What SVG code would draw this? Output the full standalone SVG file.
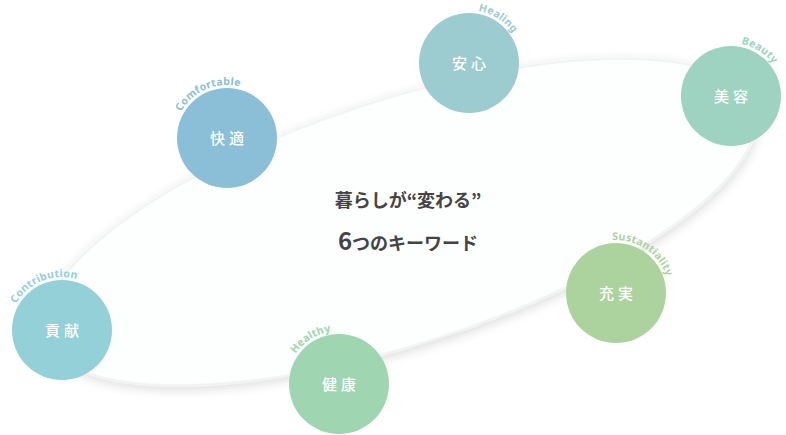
<svg xmlns="http://www.w3.org/2000/svg" width="786" height="435" viewBox="0 0 786 435">
<style>
.k{font-family:"Noto Sans CJK JP","Noto Sans",sans-serif;font-size:15px;fill:#fff;text-anchor:middle;letter-spacing:4px;font-weight:500}
.l{font-family:"Noto Sans","Liberation Sans",sans-serif;font-size:10.5px;font-weight:700;letter-spacing:0.3px;text-anchor:middle}
.c{font-family:"Noto Sans CJK JP","Noto Sans",sans-serif;font-weight:700;fill:#444;text-anchor:middle}
</style>
<defs>
<path id="arc" d="M -45.9 -26.5 A 53 53 0 0 1 45.9 -26.5"/>
<filter id="sh" x="-20%" y="-40%" width="140%" height="180%"><feGaussianBlur in="SourceAlpha" stdDeviation="6"/><feOffset dy="3"/><feComponentTransfer><feFuncA type="linear" slope="0.15"/></feComponentTransfer><feMerge><feMergeNode/><feMergeNode in="SourceGraphic"/></feMerge></filter>
</defs>
<rect width="786" height="435" fill="#fff"/>
<g id="connectors"><ellipse cx="400" cy="222" rx="372" ry="122" transform="rotate(-18 400 222)" fill="#fdfefe" stroke="#f1f3f3" stroke-width="2" filter="url(#sh)"/></g>
<g id="center"><text class="c" x="408" y="207" font-size="18">暮らしが“変わる”</text><text class="c" x="408" y="250" font-size="18"><tspan font-size="24">6</tspan>つのキーワード</text></g>
<g id="anshin"><circle cx="469" cy="63" r="50" fill="#9ccbd0"/><text class="k" x="471" y="69">安心</text><g transform="translate(469 63) rotate(33)"><text class="l" fill="#9ccbd0"><textPath href="#arc" startOffset="50%">Healing</textPath></text></g></g>
<g id="biyou"><circle cx="731" cy="96" r="50" fill="#9dd3c0"/><text class="k" x="733" y="102">美容</text><g transform="translate(731 96) rotate(32)"><text class="l" fill="#9dd3c0"><textPath href="#arc" startOffset="50%">Beauty</textPath></text></g></g>
<g id="kaiteki"><circle cx="227" cy="138" r="50" fill="#8bbfd8"/><text class="k" x="229" y="144">快適</text><g transform="translate(227 138) rotate(-23)"><text class="l" fill="#8bbfd8"><textPath href="#arc" startOffset="50%">Comfortable</textPath></text></g></g>
<g id="kouken"><circle cx="62" cy="330" r="50" fill="#93d0d8"/><text class="k" x="64" y="336">貢献</text><g transform="translate(62 330) rotate(-22)"><text class="l" fill="#93d0d8"><textPath href="#arc" startOffset="50%">Contribution</textPath></text></g></g>
<g id="kenkou"><circle cx="339" cy="384" r="50" fill="#9fd5b0"/><text class="k" x="341" y="390">健康</text><g transform="translate(339 384) rotate(-32)"><text class="l" fill="#9fd5b0"><textPath href="#arc" startOffset="50%">Healthy</textPath></text></g></g>
<g id="juujitsu"><circle cx="616" cy="293" r="50" fill="#acd39e"/><text class="k" x="618" y="299">充実</text><g transform="translate(616 293) rotate(34)"><text class="l" fill="#acd39e"><textPath href="#arc" startOffset="50%">Sustantiality</textPath></text></g></g>
</svg>
